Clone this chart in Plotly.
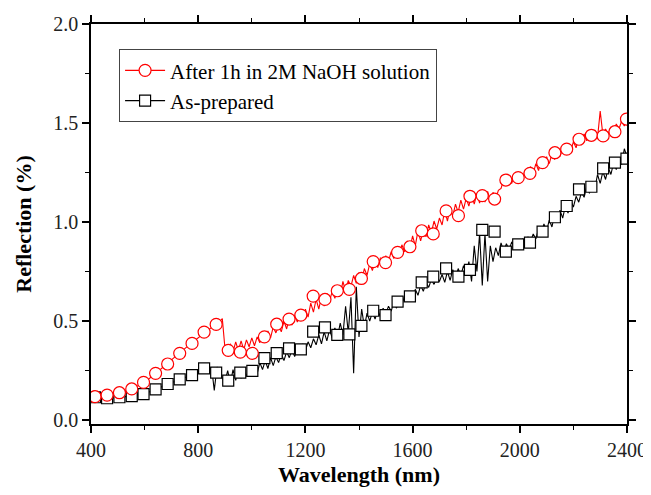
import numpy as np
import plotly.graph_objects as go

# ---- line data, sampled every 10 nm from 400 to 2400 nm ----
red_line = [
    # 400
    0.110, 0.112, 0.114, 0.116, 0.118, 0.120, 0.123, 0.126, 0.129, 0.132,
    # 500
    0.135, 0.139, 0.143, 0.147, 0.151, 0.156, 0.162, 0.169, 0.176, 0.184,
    # 600
    0.192, 0.202, 0.212, 0.222, 0.233, 0.244, 0.256, 0.268, 0.280, 0.292,
    # 700
    0.304, 0.316, 0.328, 0.339, 0.350, 0.361, 0.372, 0.383, 0.394, 0.405,
    # 800
    0.416, 0.427, 0.438, 0.449, 0.459, 0.468, 0.476, 0.486, 0.497, 0.512,
    # 900
    0.360, 0.330, 0.385, 0.345, 0.395, 0.350, 0.400, 0.355, 0.405, 0.370,
    # 1000
    0.415, 0.375, 0.420, 0.390, 0.445, 0.400, 0.450, 0.415, 0.470, 0.440,
    # 1100
    0.480, 0.445, 0.500, 0.460, 0.515, 0.480, 0.530, 0.495, 0.545, 0.510,
    # 1200
    0.560, 0.520, 0.590, 0.545, 0.610, 0.560, 0.625, 0.575, 0.640, 0.600,
    # 1300
    0.650, 0.615, 0.665, 0.630, 0.700, 0.650, 0.705, 0.675, 0.730, 0.690,
    # 1400
    0.745, 0.705, 0.765, 0.730, 0.790, 0.755, 0.810, 0.770, 0.820, 0.790,
    # 1500
    0.830, 0.800, 0.850, 0.815, 0.870, 0.830, 0.885, 0.850, 0.905, 0.865,
    # 1600
    0.930, 0.880, 0.955, 0.905, 0.960, 0.925, 0.985, 0.945, 1.005, 0.965,
    # 1700
    1.020, 0.985, 1.060, 1.005, 1.070, 1.030, 1.090, 1.050, 1.110, 1.065,
    # 1800
    1.120, 1.080, 1.140, 1.090, 1.145, 1.095, 1.150, 1.100, 1.155, 1.105,
    # 1900
    1.150, 1.115, 1.160, 1.170, 1.215, 1.185, 1.225, 1.195, 1.240, 1.205,
    # 2000
    1.250, 1.215, 1.265, 1.230, 1.280, 1.245, 1.295, 1.260, 1.320, 1.280,
    # 2100
    1.330, 1.295, 1.345, 1.315, 1.360, 1.330, 1.375, 1.345, 1.390, 1.360,
    # 2200
    1.405, 1.375, 1.430, 1.395, 1.445, 1.410, 1.460, 1.420, 1.465, 1.425,
    # 2300
    1.560, 1.440, 1.470, 1.445, 1.480, 1.455, 1.495, 1.470, 1.510, 1.485,
    # 2400
    1.525,
]

black_line = [
    # 400
    0.115, 0.114, 0.113, 0.112, 0.111, 0.110, 0.110, 0.110, 0.111, 0.112,
    # 500
    0.113, 0.114, 0.115, 0.117, 0.119, 0.121, 0.123, 0.125, 0.128, 0.131,
    # 600
    0.134, 0.138, 0.143, 0.148, 0.154, 0.159, 0.165, 0.171, 0.177, 0.183,
    # 700
    0.188, 0.193, 0.198, 0.203, 0.208, 0.213, 0.218, 0.223, 0.228, 0.233,
    # 800
    0.238, 0.243, 0.250, 0.258, 0.264, 0.265, 0.150, 0.268, 0.245, 0.210,
    # 900
    0.195, 0.250, 0.185, 0.255, 0.200, 0.260, 0.210, 0.255, 0.220, 0.265,
    # 1000
    0.225, 0.275, 0.235, 0.290, 0.255, 0.300, 0.260, 0.315, 0.275, 0.320,
    # 1100
    0.290, 0.335, 0.300, 0.345, 0.315, 0.355, 0.320, 0.370, 0.335, 0.385,
    # 1200
    0.350, 0.395, 0.365, 0.410, 0.380, 0.430, 0.385, 0.445, 0.400, 0.455,
    # 1300
    0.415, 0.465, 0.420, 0.490, 0.430, 0.575, 0.440, 0.620, 0.236, 0.673,
    # 1400
    0.420, 0.560, 0.470, 0.540, 0.500, 0.545, 0.510, 0.555, 0.520, 0.565,
    # 1500
    0.535, 0.575, 0.550, 0.595, 0.565, 0.605, 0.580, 0.625, 0.600, 0.645,
    # 1600
    0.615, 0.660, 0.630, 0.680, 0.650, 0.695, 0.670, 0.710, 0.685, 0.725,
    # 1700
    0.700, 0.735, 0.695, 0.750, 0.705, 0.760, 0.715, 0.765, 0.730, 0.780,
    # 1800
    0.740, 0.800, 0.700, 0.880, 0.750, 0.943, 0.680, 0.940, 0.700, 0.880,
    # 1900
    0.800, 0.870, 0.830, 0.895, 0.850, 0.890, 0.860, 0.900, 0.870, 0.905,
    # 2000
    0.875, 0.915, 0.885, 0.925, 0.900, 0.940, 0.915, 0.965, 0.935, 0.990,
    # 2100
    0.955, 1.010, 0.975, 1.040, 1.005, 1.060, 1.020, 1.080, 1.045, 1.110,
    # 2200
    1.075, 1.130, 1.100, 1.150, 1.125, 1.185, 1.145, 1.205, 1.170, 1.240,
    # 2300
    1.195, 1.255, 1.215, 1.275, 1.240, 1.300, 1.265, 1.320, 1.290, 1.370,
    # 2400
    1.330,
]

wavelength_start = 400
wavelength_step = 10
red_x = [wavelength_start + wavelength_step * i for i in range(len(red_line))]
black_x = [wavelength_start + wavelength_step * i for i in range(len(black_line))]

# ---- marker (symbol) positions ----
marker_x = [415, 460, 506, 552, 596, 641, 686, 731, 777, 822, 867, 912, 957,
            1002, 1047, 1093, 1139, 1183, 1229, 1273, 1319, 1364, 1409, 1453,
            1499, 1544, 1590, 1634, 1677, 1725, 1771, 1814, 1860, 1906, 1948,
            1994, 2038, 2085, 2131, 2175, 2221, 2267, 2311, 2355, 2398]
red_markers = [0.118, 0.126, 0.138, 0.157, 0.190, 0.236, 0.283, 0.337, 0.387,
               0.444, 0.483, 0.352, 0.343, 0.337, 0.420, 0.484, 0.510, 0.530,
               0.626, 0.609, 0.653, 0.660, 0.715, 0.800, 0.795, 0.847, 0.875,
               0.956, 0.940, 1.056, 1.032, 1.130, 1.133, 1.116, 1.212, 1.224,
               1.246, 1.300, 1.350, 1.368, 1.418, 1.438, 1.435, 1.456, 1.520]
black_markers = [0.115, 0.110, 0.115, 0.121, 0.131, 0.155, 0.182, 0.205, 0.227,
                 0.261, 0.239, 0.199, 0.239, 0.248, 0.313, 0.338, 0.362, 0.357,
                 0.446, 0.468, 0.430, 0.433, 0.476, 0.552, 0.530, 0.598, 0.625,
                 0.695, 0.724, 0.766, 0.724, 0.758, 0.960, 0.951, 0.850, 0.887,
                 0.896, 0.951, 1.024, 1.081, 1.165, 1.178, 1.271, 1.300, 1.320]

series_names = ["After 1h in 2M NaOH solution", "As-prepared"]
x_ticks = [400, 800, 1200, 1600, 2000, 2400]
y_ticks = [0.0, 0.5, 1.0, 1.5, 2.0]
y_ticklabels = ["0.0", "0.5", "1.0", "1.5", "2.0"]

FONT = "Liberation Serif"
RED = "#ff0000"
BLACK = "#000000"

fig = go.Figure()

# lines (drawn first)
fig.add_trace(go.Scatter(x=black_x, y=black_line, mode="lines",
                         line=dict(color=BLACK, width=1.1), showlegend=False,
                         hoverinfo="skip"))
fig.add_trace(go.Scatter(x=red_x, y=red_line, mode="lines",
                         line=dict(color=RED, width=1.1), showlegend=False,
                         hoverinfo="skip"))
# markers
fig.add_trace(go.Scatter(x=marker_x, y=black_markers, mode="markers",
                         marker=dict(symbol="square", size=11, color="white",
                                     line=dict(color=BLACK, width=1.2)),
                         showlegend=False))
fig.add_trace(go.Scatter(x=marker_x, y=red_markers, mode="markers",
                         marker=dict(symbol="circle", size=12, color="white",
                                     line=dict(color=RED, width=1.2)),
                         showlegend=False))
# legend entries
fig.add_trace(go.Scatter(x=[None], y=[None], mode="lines+markers", name=series_names[0],
                         line=dict(color=RED, width=1.1),
                         marker=dict(symbol="circle", size=12, color="white",
                                     line=dict(color=RED, width=1.2))))
fig.add_trace(go.Scatter(x=[None], y=[None], mode="lines+markers", name=series_names[1],
                         line=dict(color=BLACK, width=1.1),
                         marker=dict(symbol="square", size=11, color="white",
                                     line=dict(color=BLACK, width=1.2))))

axis_common = dict(showline=True, linecolor="black", linewidth=1.5, mirror="allticks",
                   ticks="outside", ticklen=7, tickwidth=1.5, tickcolor="black",
                   showgrid=False, zeroline=False, automargin=False,
                   ticklabeloverflow="allow",
                   tickfont=dict(family=FONT, size=20, color="#222222"))

fig.update_xaxes(range=[400, 2400], tickvals=x_ticks,
                 title=dict(text="<b>Wavelength (nm)</b>", font=dict(family=FONT, size=22, color="black"),
                            standoff=14),
                 minor=dict(ticklen=4, tickwidth=1.2, tickcolor="black", dtick=200, tick0=400, ticks="outside"),
                 **axis_common)
fig.update_yaxes(range=[-0.02, 2.0], tickvals=y_ticks, ticktext=y_ticklabels,
                 title=dict(text="<b>Reflection (%)</b>", font=dict(family=FONT, size=22, color="black"),
                            standoff=16),
                 minor=dict(ticklen=4, tickwidth=1.2, tickcolor="black", dtick=0.25, tick0=0, ticks="outside"),
                 **axis_common)

# the page body has an 8 px margin: figure shifted 8 px, kept within the window
fig.update_layout(
    width=643, height=479,
    margin=dict(l=83, r=24, t=16, b=63),
    paper_bgcolor="white", plot_bgcolor="white",
    font=dict(family=FONT, color="black"),
    legend=dict(x=0.052, y=0.9375, xanchor="left", yanchor="top",
                bgcolor="white", bordercolor="#444444", borderwidth=1.2,
                font=dict(family=FONT, size=21, color="black"),
                itemwidth=40, tracegroupgap=0),
)

fig.write_html("out.html")
